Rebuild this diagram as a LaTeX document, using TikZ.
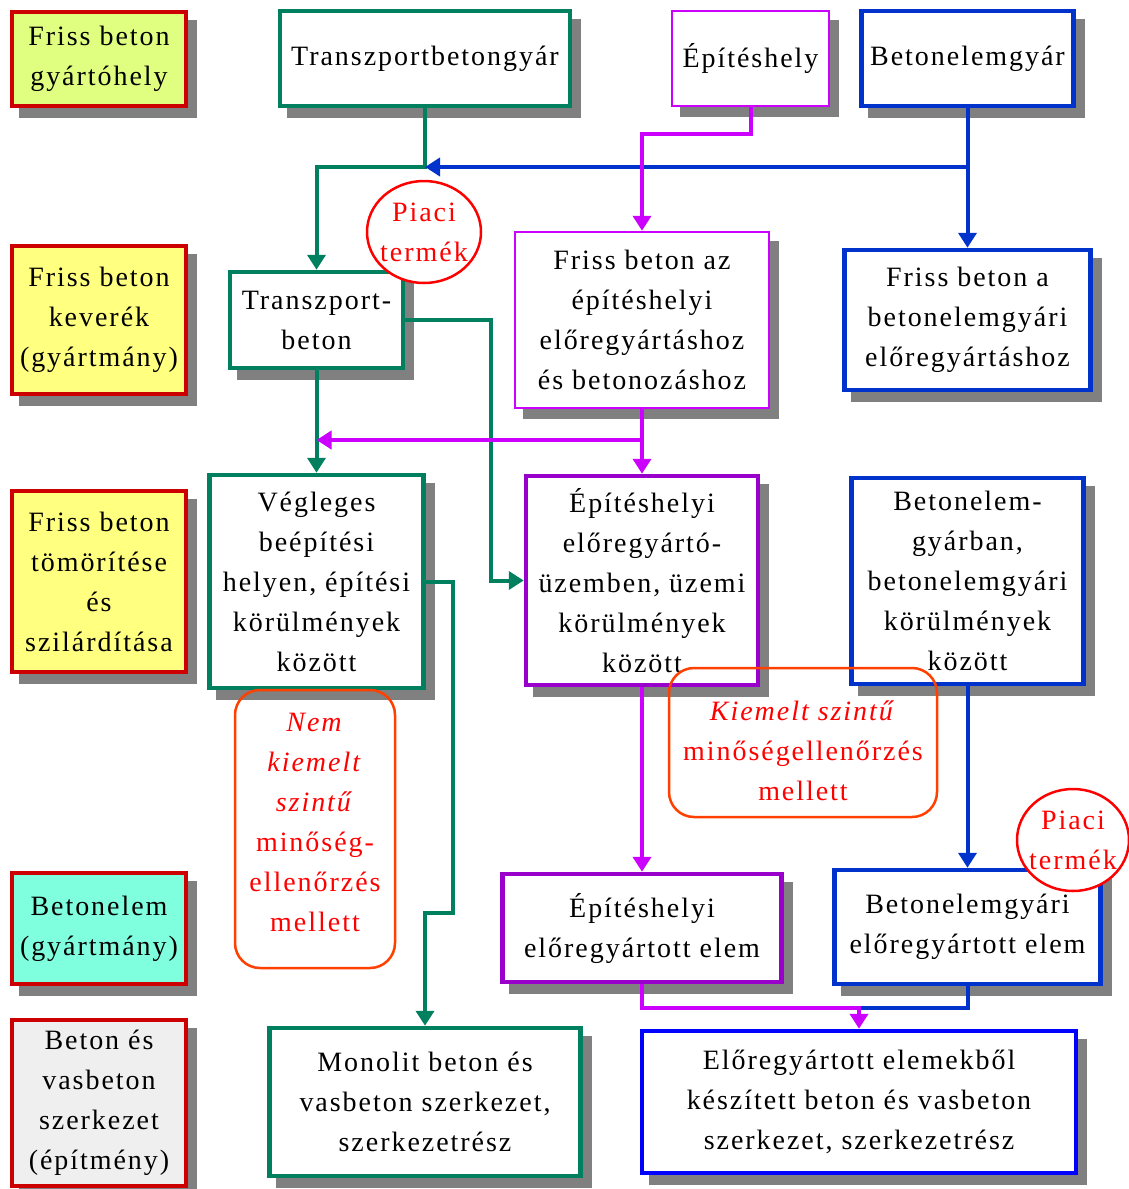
\documentclass[tikz,border=0pt]{standalone}
\usepackage{fontspec}
\setmainfont{Liberation Serif}[LetterSpace=7]
\usepackage{tikz}
\usetikzlibrary{arrows.meta,positioning,calc,shapes,shadows}

\definecolor{zold}{HTML}{00805F}
\definecolor{lila}{HTML}{CC00FF}
\definecolor{ibolya}{HTML}{9900CC}
\definecolor{kek}{HTML}{0033CC}
\definecolor{tisztakek}{HTML}{0000FF}
\definecolor{keret}{HTML}{CC0000}
\definecolor{narancs}{HTML}{FF4000}
\definecolor{sargazold}{HTML}{E0FF80}
\definecolor{sarga}{HTML}{FFFF80}
\definecolor{turkiz}{HTML}{80FFDF}
\definecolor{szurke}{HTML}{EFEFEF}

\begin{document}
\begin{tikzpicture}[x=1pt,y=-1pt,
			font=\fontsize{28}{40}\selectfont,
			doboz/.style={rectangle, draw, fill=white, line width=4.5pt, align=center, inner sep=2pt, drop shadow={shadow xshift=9pt, shadow yshift=-10pt, fill=black!50, draw=black!50, opacity=1}},
			vekony/.style={doboz, line width=2.5pt},
			cimke/.style={doboz, draw=keret, minimum width=174pt},
			vonal/.style={line width=4pt},
			nyil/.style={vonal, -{Triangle[width=18pt,length=15pt]}},
			minoseg/.style={rectangle, rounded corners=25pt, draw=narancs, line width=2.5pt},
			kor/.style={ellipse, draw=red, fill=white, line width=2.5pt, minimum width=114pt, minimum height=102pt},
			piros/.style={text=red, align=center, inner sep=0pt}]
			\useasboundingbox (0,0) rectangle (1129,1189);
			\node at (99,59) [cimke, fill=sargazold, minimum height=94pt] (hely) {Friss beton\\gyártóhely};
			\node at (99,320) [cimke, fill=sarga, minimum height=148pt] (keverek) {Friss beton\\keverék\\(gyártmány)};
			\node at (99,581.5) [cimke, fill=sarga, minimum height=181pt] (tomorites) {Friss beton\\tömörítése\\és\\szilárdítása};
			\node at (99,928.5) [cimke, fill=turkiz, minimum height=111pt] (elem) {Betonelem\\(gyártmány)};
			\node at (99,1103) [cimke, fill=szurke, minimum height=166pt] (epitmeny) {Beton és\\vasbeton\\szerkezet\\(építmény)};
			\node at (425,58.5) [doboz, draw=zold, minimum width=290pt, minimum height=95pt] (tbgyar) {Transzportbetongyár};
			\node at (750.5,58.5) [vekony, draw=lila, minimum width=157pt, minimum height=95pt] (epiteshely) {Építéshely};
			\node at (967.5,58.5) [doboz, draw=kek, minimum width=212pt, minimum height=95pt] (bgyar) {Betonelemgyár};
			\node at (316.5,320) [doboz, draw=zold, minimum width=173pt, minimum height=96pt] (tbeton) {Transzport-\\beton};
			\node at (642,320) [vekony, draw=lila, minimum width=254pt, minimum height=176pt] (frissaz) {Friss beton az\\építéshelyi\\előregyártáshoz\\és betonozáshoz};
			\node at (967.5,320) [doboz, draw=kek, minimum width=246pt, minimum height=140pt] (frissa) {Friss beton a\\betonelemgyári\\előregyártáshoz};
			\node at (316.5,581.5) [doboz, draw=zold, minimum width=214pt, minimum height=213pt] (vegleges) {Végleges\\beépítési\\helyen, építési\\körülmények\\között};
			\node at (642,580.5) [doboz, draw=ibolya, minimum width=232pt, minimum height=209pt] (uzem) {Építéshelyi\\előregyártó-\\üzemben, üzemi\\körülmények\\között};
			\node at (967.5,581) [doboz, draw=kek, minimum width=232pt, minimum height=206pt] (bgyarban) {Betonelem-\\gyárban,\\betonelemgyári\\körülmények\\között};
			\node at (642,928) [doboz, draw=ibolya, minimum width=279pt, minimum height=108pt] (epelem) {Építéshelyi\\előregyártott elem};
			\node at (967.5,927) [doboz, draw=kek, minimum width=266pt, minimum height=114pt] (bgyelem) {Betonelemgyári\\előregyártott elem};
			\node at (425,1102) [doboz, draw=zold, minimum width=311pt, minimum height=148pt] (monolit) {Monolit beton és\\vasbeton szerkezet,\\szerkezetrész};
			\node at (859,1102) [doboz, draw=tisztakek, minimum width=434pt, minimum height=142pt] (elore) {Előregyártott elemekből\\készített beton és vasbeton\\szerkezet, szerkezetrész};
			\coordinate (ag1) at (425,167);
			\coordinate (ag2) at (316.5,440);
			\coordinate (ag3) at (425,913);
			\coordinate (ag4) at (859,1008);
			\draw[nyil, zold] (tbgyar.south) -- (ag1) -| (tbeton.north);
			\draw[nyil, kek] (bgyar.south) -- (frissa.north);
			\draw[nyil, kek] (bgyar.south |- ag1) -- (ag1);
			\draw[nyil, lila] (epiteshely.south) -- ++(0,27) -| (frissaz.north);
			\draw[nyil, zold] (tbeton.east) -- ++(86,0) |- (uzem.west);
			\draw[nyil, zold] (tbeton.south) -- (vegleges.north);
			\draw[nyil, lila] (frissaz.south) -- (uzem.north);
			\draw[nyil, lila] (frissaz.south |- ag2) -- (ag2);
			\draw[nyil, zold] (vegleges.east) -- ++(27,0) |- (ag3) -- (monolit.north);
			\draw[nyil, lila] (uzem.south) -- (epelem.north);
			\draw[nyil, kek] (bgyarban.south) -- (bgyelem.north);
			\draw[vonal, kek] (bgyelem.south) |- (ag4);
			\draw[nyil, lila] (epelem.south) |- (ag4) -- (elore.north);
			\node at (315,829) [minoseg, minimum width=160pt, minimum height=278pt] (nemkeret) {};
			\node at (315,822) [piros] (nemkiemelt) {\textit{Nem}\\\textit{kiemelt}\\\textit{szintű}\\minőség-\\ellenőrzés\\mellett};
			\node at (803,742.5) [minoseg, minimum width=268pt, minimum height=149pt] (kiemkeret) {};
			\node at (803,751) [piros] (kiemelt) {\textit{Kiemelt szintű}\\minőségellenőrzés\\mellett};
			\node at (424,232) [kor] (kor1) {};
			\node at (kor1) [piros] (piaci1) {Piaci\\termék};
			\node at (1073,840) [kor, minimum width=112pt] (kor2) {};
			\node at (kor2) [piros] (piaci2) {Piaci\\termék};
		\end{tikzpicture}
\end{document}
